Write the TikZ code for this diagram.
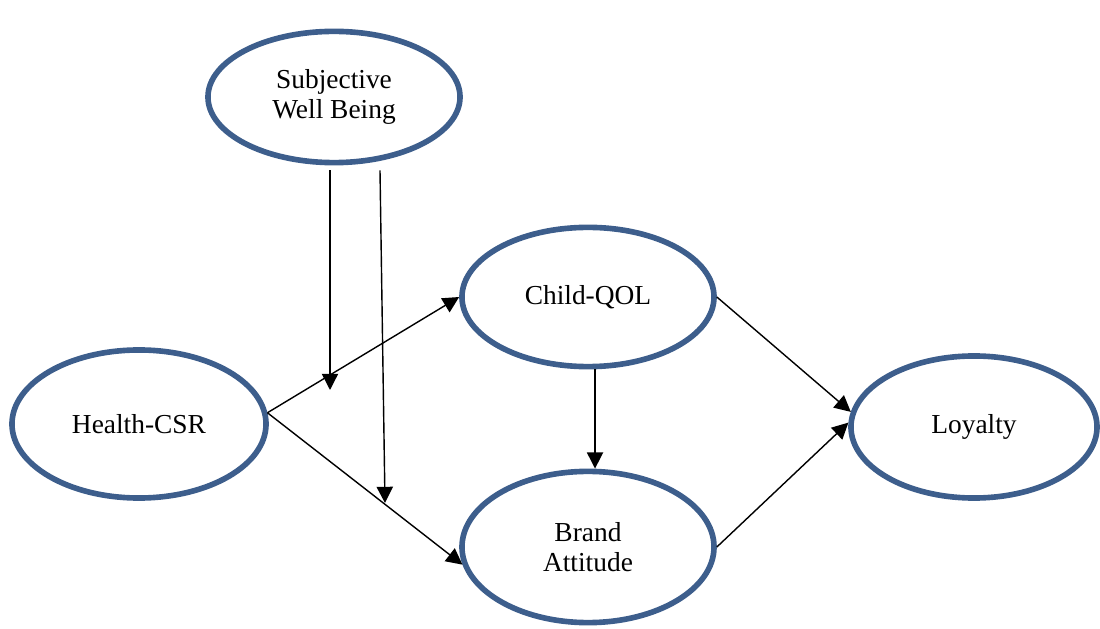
\documentclass[tikz,border=0pt]{standalone}
\usepackage{fontspec}
\setmainfont{Liberation Serif}
\usetikzlibrary{arrows.meta,shapes.geometric}
\definecolor{ovalblue}{RGB}{61,94,140}

\begin{document}
\begin{tikzpicture}[x=0.025cm, y=-0.025cm, >={Triangle[length=11.5pt,width=11.5pt]},
    construct/.style={ellipse, draw=ovalblue, line width=4pt, inner sep=0pt, align=center,
        font=\fontsize{19.5}{21.5}\selectfont},
    link/.style={->, line width=1pt}]
    \useasboundingbox (0,0) rectangle (1100,629);

    % Nodes {swb, cq, hc, ba, ly}
    \node [construct, minimum width=6.3cm,  minimum height=3.28cm] (swb) at (334,97)  {Subjective\\Well Being};
    \node [construct, minimum width=6.3cm,  minimum height=3.48cm] (cq)  at (588,297) {Child-QOL};
    \node [construct, minimum width=6.35cm, minimum height=3.7cm]  (hc)  at (139,424) {Health-CSR};
    \node [construct, minimum width=6.3cm,  minimum height=3.78cm] (ba)  at (588,547) {Brand\\Attitude};
    \node [construct, minimum width=6.15cm, minimum height=3.55cm] (ly)  at (974,427) {Loyalty};

    % Moderator ends
    \coordinate (s1) at ([shift={(-4,5)}]swb.south);
    \coordinate (s2) at ([shift={(46,5)}]swb.south);
    \coordinate (m1) at (330,390);
    \coordinate (m2) at (385,503);

    % Paths
    \path [link] (hc.5)     edge (cq.west);
    \path [link] (hc.5)     edge (ba.188);
    \path [link] ([xshift=5]cq.south) edge ([xshift=5]ba.north);
    \path [link] (cq.east)  edge (ly.173);
    \path [link] (ba.east)  edge (ly.178);
    \path [link] (s1)       edge (m1);
    \path [link] (s2)       edge (m2);

\end{tikzpicture}
\end{document}
